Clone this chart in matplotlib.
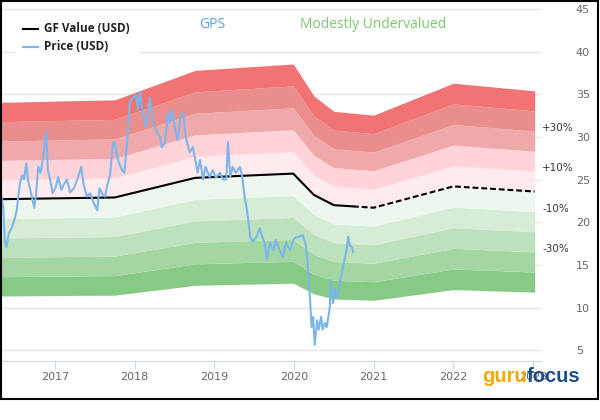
#!/usr/bin/env python3
"""
GPS price vs. GF Value chart with valuation bands (+/-10% steps).
"""

import matplotlib
matplotlib.use('Agg')
import matplotlib.pyplot as plt
from matplotlib.lines import Line2D
from matplotlib.patches import Rectangle
import numpy as np

W, H = 600, 420

# price (USD), decimal years
price_dates = [
    2016.31, 2016.35, 2016.37, 2016.39, 2016.42, 2016.46, 2016.50, 2016.52, 2016.56, 2016.59,
    2016.61, 2016.64, 2016.66, 2016.70, 2016.74, 2016.76, 2016.79, 2016.82, 2016.85, 2016.89,
    2016.91, 2016.94, 2016.97, 2017.01, 2017.04, 2017.08, 2017.11, 2017.15, 2017.19, 2017.24,
    2017.29, 2017.33, 2017.36, 2017.40, 2017.44, 2017.48, 2017.53, 2017.56, 2017.60, 2017.63,
    2017.65, 2017.69, 2017.73, 2017.75, 2017.79, 2017.84, 2017.87, 2017.90, 2017.94, 2017.98,
    2018.02, 2018.04, 2018.07, 2018.10, 2018.14, 2018.17, 2018.19, 2018.23, 2018.27, 2018.32,
    2018.34, 2018.38, 2018.42, 2018.44, 2018.47, 2018.51, 2018.54, 2018.57, 2018.61, 2018.64,
    2018.69, 2018.73, 2018.77, 2018.79, 2018.82, 2018.86, 2018.89, 2018.94, 2018.98, 2019.02,
    2019.07, 2019.11, 2019.15, 2019.17, 2019.20, 2019.23, 2019.27, 2019.32, 2019.35, 2019.38,
    2019.41, 2019.45, 2019.48, 2019.53, 2019.57, 2019.60, 2019.63, 2019.66, 2019.70, 2019.74,
    2019.77, 2019.82, 2019.86, 2019.90, 2019.95, 2019.99, 2020.02, 2020.07, 2020.11, 2020.15,
    2020.17, 2020.20, 2020.22, 2020.24, 2020.26, 2020.29, 2020.31, 2020.34, 2020.36, 2020.39,
    2020.41, 2020.44, 2020.45, 2020.46, 2020.49, 2020.51, 2020.55, 2020.58, 2020.61, 2020.64,
    2020.66, 2020.68, 2020.70, 2020.73, 2020.74,
]
price_values = [
    24.0, 21.8, 17.9, 17.1, 18.7, 19.4, 20.6, 21.4, 24.6, 25.5,
    25.0, 26.9, 25.0, 23.4, 21.7, 23.0, 26.5, 25.8, 27.5, 30.6,
    26.1, 25.0, 23.4, 24.1, 25.3, 23.8, 24.4, 25.0, 23.5, 24.0,
    25.3, 26.5, 24.4, 23.0, 23.4, 22.4, 21.4, 24.0, 23.2, 23.0,
    24.1, 25.5, 29.3, 29.4, 27.3, 26.1, 25.8, 28.8, 34.1, 34.6,
    34.9, 33.2, 35.3, 32.9, 31.2, 33.2, 34.6, 31.6, 30.8, 30.0,
    28.8, 29.3, 32.8, 31.6, 33.2, 30.8, 29.6, 32.0, 32.8, 30.0,
    28.2, 28.8, 26.9, 25.8, 27.3, 25.0, 26.5, 25.3, 26.1, 25.2,
    25.8, 25.0, 25.0, 29.4, 25.3, 26.5, 25.8, 26.5, 25.3, 23.0,
    21.4, 18.3, 17.7, 18.3, 19.3, 18.3, 17.6, 15.6, 17.6, 16.7,
    17.9, 16.7, 15.9, 17.6, 16.7, 17.9, 18.2, 18.3, 18.5, 17.3,
    15.2, 11.2, 7.7, 8.9, 5.6, 8.5, 7.4, 8.9, 7.4, 8.2,
    7.7, 9.4, 10.1, 13.2, 10.5, 12.1, 11.2, 13.2, 14.4, 15.9,
    16.7, 18.3, 17.3, 17.0, 16.5,
]

# GF Value (USD)
gf_dates = [2016.31, 2017.75, 2018.76, 2019.99, 2020.25, 2020.50, 2021.00, 2022.00, 2023.02]
gf_values = [22.7, 22.9, 25.2, 25.7, 23.2, 22.0, 21.7, 24.2, 23.6]

# band edges as multiples of GF Value, bottom to top
band_steps = [0.5, 0.6, 0.7, 0.8, 0.9, 1.0, 1.1, 1.2, 1.3, 1.4, 1.5]
band_colors = ['#86ca86', '#a4d6a4', '#bde1bd', '#d6ecd6', '#eef7ee',
               '#ffebee', '#ffd3d7', '#f0a9aa', '#e98d8d', '#f17373']

pct_labels = ['+30%', '+10%', '-10%', '-30%']
pct_levels = [1.3, 1.1, 0.9, 0.7]

year_ticks = [2017, 2018, 2019, 2020, 2021, 2022, 2023]
y_ticks = [5, 10, 15, 20, 25, 30, 35, 40, 45]


def fx(x):
    return x / W


def fy(y):
    return 1 - y / H


fig = plt.figure(figsize=(W / 100, H / 100), dpi=100)
ax = fig.add_axes([0, fy(361), fx(541), (361 - 7) / H])

gf_d = np.array(gf_dates)
gf_v = np.array(gf_values)

for lo, hi, col in zip(band_steps[:-1], band_steps[1:], band_colors):
    ax.fill_between(gf_d, gf_v * lo, gf_v * hi, color=col, lw=0, zorder=1)

# GF value: solid while price exists, dashed afterwards
t_end = price_dates[-1]
v_end = np.interp(t_end, gf_d, gf_v)
past = gf_d < t_end
ax.plot(list(gf_d[past]) + [t_end], list(gf_v[past]) + [v_end],
        color='black', lw=1.5, zorder=3)
ax.plot([t_end] + list(gf_d[~past]), [v_end] + list(gf_v[~past]),
        color='black', lw=1.5, dashes=(2.8, 1.4), zorder=3)

ax.plot(price_dates, price_values, color='#7cb5ec', lw=1.5, zorder=4)

for txt, lvl in zip(pct_labels, pct_levels):
    ax.annotate(txt, xy=(1, lvl * gf_values[-1]), xycoords=('axes fraction', 'data'),
                xytext=(1, 0), textcoords='offset points',
                ha='left', va='baseline', fontsize=7.5, color='#333333')

ax.set_xlim(2016.31, 2023.10)
ax.set_ylim(3.73, 45.23)
ax.set_xticks(year_ticks)
ax.set_xticklabels([str(y) for y in year_ticks])
ax.set_yticks(y_ticks)

ax.set_axisbelow(True)
ax.yaxis.grid(True, color='#e6e6e6', lw=1)
ax.yaxis.tick_right()
ax.tick_params(axis='y', length=0, pad=25, labelsize=8, labelcolor='#666666')
ax.tick_params(axis='x', length=5.8, width=0.8, color='#ccd6eb', pad=2,
               labelsize=8, labelcolor='#666666')
for side in ['left', 'right', 'top']:
    ax.spines[side].set_visible(False)
ax.spines['bottom'].set_color('#ccd6eb')
ax.spines['bottom'].set_linewidth(0.8)

# legend box
fig.add_artist(Rectangle((fx(15), fy(54)), fx(125), 43 / H, transform=fig.transFigure,
                         facecolor='white', edgecolor='none', zorder=5))
fig.add_artist(Line2D([fx(23), fx(38)], [fy(29), fy(29)], color='black', lw=1.5, zorder=6))
fig.add_artist(Line2D([fx(23), fx(38)], [fy(47), fy(47)], color='#7cb5ec', lw=1.5, zorder=6))
fig.text(fx(44), fy(29), 'GF Value (USD)', ha='left', va='center', fontsize=8.5,
         family='Open Sans', weight='bold', color='#222222', zorder=6)
fig.text(fx(44), fy(47), 'Price (USD)', ha='left', va='center', fontsize=8.5,
         family='Open Sans', weight='bold', color='#222222', zorder=6)

fig.text(fx(212), fy(25), 'GPS', ha='center', va='center', fontsize=10,
         family='Open Sans', color='#5ba3e8')
fig.text(fx(300), fy(25), 'Modestly Undervalued', ha='left', va='center', fontsize=10,
         family='Open Sans', color='#7dc86e')

# logo
fig.text(fx(527), fy(382), 'guru', ha='right', va='baseline', fontsize=14.5,
         family='Liberation Sans', weight='bold', color='#f5a800', zorder=10)
fig.text(fx(527), fy(382), 'focus', ha='left', va='baseline', fontsize=14.5,
         family='Liberation Sans', weight='bold', color='#1d4c8e', zorder=10)

# chart frame occupies the top 400 px
fig.add_artist(Rectangle((fx(1), fy(398.5)), 596.5 / W, 397.5 / H, transform=fig.transFigure,
                         fill=False, edgecolor='black', lw=1.5, zorder=20))

fig.savefig('out.png', dpi=100)
